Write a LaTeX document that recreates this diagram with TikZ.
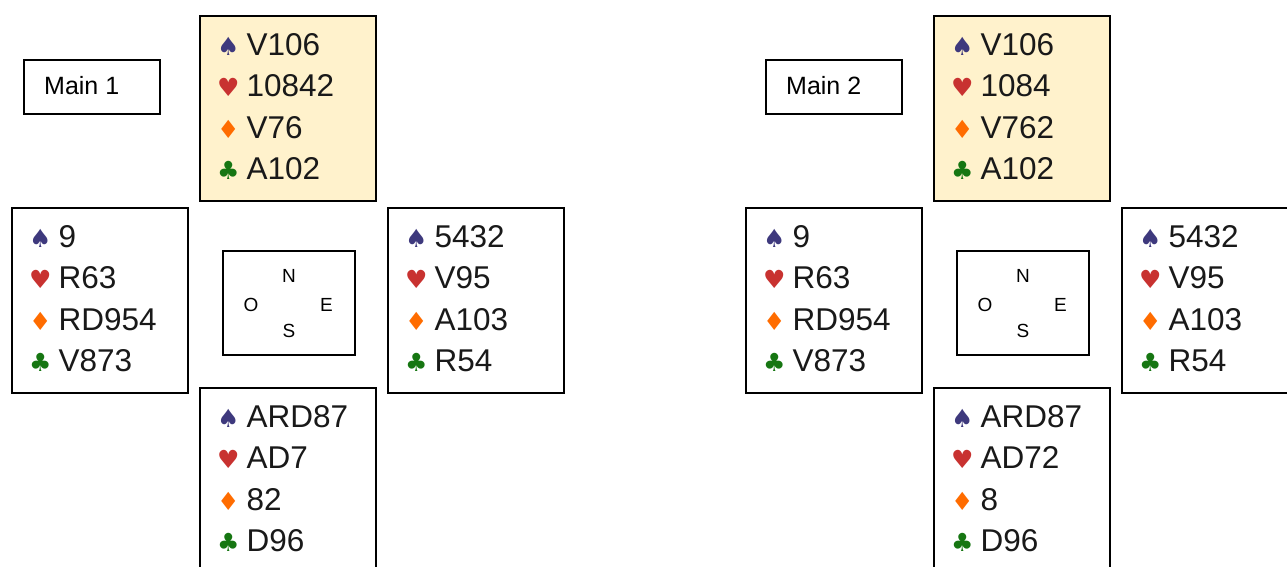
\documentclass[tikz,border=0pt]{standalone}
\usepackage{fontspec}
\setmainfont{Liberation Sans}
\newfontfamily\suitfont{DejaVu Sans}

\definecolor{spadecol}{RGB}{62,57,125}
\definecolor{heartcol}{RGB}{200,50,48}
\definecolor{diamcol}{RGB}{255,108,0}
\definecolor{clubcol}{RGB}{22,118,18}
\definecolor{northfill}{RGB}{255,242,204}

% suit sign in its colour, then the cards
\newcommand{\suit}[2]{{\suitfont\fontsize{25}{25}\selectfont\color{#1}#2}\hspace{7pt}}

% a hand: name, north west corner, box options, spades, hearts, diamonds, clubs
\newcommand{\hand}[7]{%
  \node[handbox, #3] (#1) at (#2) {};
  \node[cardline] (#1s) at ([shift={(18pt,-40pt)}]#1.north west) {\suit{spadecol}{♠}#4};
  \node[cardline] (#1h) at ([shift={(18pt,-81.5pt)}]#1.north west) {\suit{heartcol}{♥}#5};
  \node[cardline] (#1d) at ([shift={(18pt,-123pt)}]#1.north west) {\suit{diamcol}{♦}#6};
  \node[cardline] (#1c) at ([shift={(18pt,-164.5pt)}]#1.north west) {\suit{clubcol}{♣}#7};
}

% the table with the four seats
\newcommand{\compass}[2]{%
  \node[compassbox] (#1) at (#2) {};
  \node[seat] (#1N) at ([shift={(0pt,21pt)}]#1.center) {N};
  \node[seat] (#1O) at ([shift={(-38pt,-8pt)}]#1.center) {O};
  \node[seat] (#1E) at ([shift={(37.5pt,-8pt)}]#1.center) {E};
  \node[seat] (#1S) at ([shift={(0pt,-34pt)}]#1.center) {S};
}

% deal number
\newcommand{\mainlabel}[3]{%
  \node[mainbox] (#1) at (#2) {};
  \node[maintext] (#1t) at ([shift={(21pt,-35pt)}]#1.north west) {#3};
}

\begin{document}
\begin{tikzpicture}[x=1pt, y=-1pt,
  handbox/.style={draw, line width=1.8pt, minimum width=176pt, minimum height=185pt, inner sep=0pt, anchor=north west},
  cardline/.style={anchor=base west, inner sep=0pt, font=\fontsize{31.5}{31.5}\selectfont, text=black!90},
  compassbox/.style={draw, line width=1.8pt, minimum width=132pt, minimum height=104pt, inner sep=0pt},
  seat/.style={anchor=base, inner sep=0pt, font=\fontsize{19}{19}\selectfont},
  mainbox/.style={draw, line width=1.8pt, minimum width=136pt, minimum height=54pt, inner sep=0pt, anchor=north west},
  maintext/.style={anchor=base west, inner sep=0pt, font=\fontsize{25}{25}\selectfont}]
\useasboundingbox (0,0) rectangle (1287,566);

% Main 1
\hand{nA}{199,15}{fill=northfill}{V106}{10842}{V76}{A102}
\hand{wA}{11,207}{}{9}{R63}{RD954}{V873}
\hand{eA}{387,207}{}{5432}{V95}{A103}{R54}
\hand{sA}{199,387}{}{ARD87}{AD7}{82}{D96}
\compass{cA}{289,303}
\mainlabel{mA}{23,59}{Main 1}

% Main 2
\hand{nB}{933,15}{fill=northfill}{V106}{1084}{V762}{A102}
\hand{wB}{745,207}{}{9}{R63}{RD954}{V873}
\hand{eB}{1121,207}{}{5432}{V95}{A103}{R54}
\hand{sB}{933,387}{}{ARD87}{AD72}{8}{D96}
\compass{cB}{1023,303}
\mainlabel{mB}{765,59}{Main 2}
\end{tikzpicture}
\end{document}
